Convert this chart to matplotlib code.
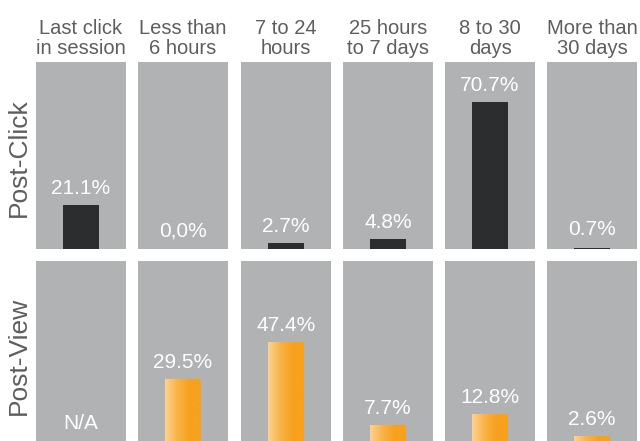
import numpy as np
import matplotlib.pyplot as plt
from matplotlib.colors import LinearSegmentedColormap

plt.rcParams['font.family'] = ['Liberation Sans', 'DejaVu Sans']

# data
categories = ['Last click\nin session', 'Less than\n6 hours', '7 to 24\nhours',
              '25 hours\nto 7 days', '8 to 30\ndays', 'More than\n30 days']
rows = ['Post-Click', 'Post-View']
post_click = [21.1, 0.0, 2.7, 4.8, 70.7, 0.7]
post_view = [None, 29.5, 47.4, 7.7, 12.8, 2.6]
click_labels = ['21.1%', '0,0%', '2.7%', '4.8%', '70.7%', '0.7%']
view_labels = ['N/A', '29.5%', '47.4%', '7.7%', '12.8%', '2.6%']

W, H = 640, 441
fig = plt.figure(figsize=(W / 100, H / 100), dpi=100)

panel_gray = '#b1b2b4'
dark = '#2b2d2f'
text_gray = '#5d5e60'
orange_cmap = LinearSegmentedColormap.from_list(
    'orng', ['#fdd393', '#f9b44a', '#f7a21f', '#f7a11d'])

col_left = [36, 138, 241, 343, 445, 547]
col_w = 90
row_box = [(62, 249), (261, 441)]
row_ylim = [90, 86]

for r, (vals, labs) in enumerate([(post_click, click_labels), (post_view, view_labels)]):
    top, bot = row_box[r]
    for c in range(6):
        ax = fig.add_axes([col_left[c] / W, 1 - bot / H, col_w / W, (bot - top) / H])
        ax.set_facecolor(panel_gray)
        ax.set_xlim(-0.5, 0.5)
        ax.set_ylim(0, row_ylim[r])
        ax.set_xticks([])
        ax.set_yticks([])
        for s in ax.spines.values():
            s.set_visible(False)
        v = vals[c]
        h = 0 if v is None else v
        if v is not None and v > 0:
            if r == 0:
                ax.bar(0, v, width=0.4, color=dark)
            else:
                b = ax.bar(0, v, width=0.4, color='none')[0]
                grad = np.linspace(0, 1, 256).reshape(1, -1)
                im = ax.imshow(grad, cmap=orange_cmap, aspect='auto',
                               extent=(-0.2, 0.2, 0, v), zorder=2)
                im.set_clip_path(b)
        off = 5 if h > 1 else 6
        ax.annotate(labs[c], (0, h), xytext=(0, off), textcoords='offset points',
                    ha='center', va='bottom', color='white', fontsize=15)
        if r == 0:
            ax.annotate(categories[c], (0.5, 1), xycoords='axes fraction',
                        xytext=(0, 3), textcoords='offset points',
                        ha='center', va='bottom', color=text_gray,
                        fontsize=14.5, linespacing=1.05)

fig.text(19 / W, 1 - 158 / H, rows[0], rotation=90, ha='center', va='center',
         color=text_gray, fontsize=19)
fig.text(19 / W, 1 - 356 / H, rows[1], rotation=90, ha='center', va='center',
         color=text_gray, fontsize=19)

fig.savefig('out.png', dpi=100, facecolor='white')
